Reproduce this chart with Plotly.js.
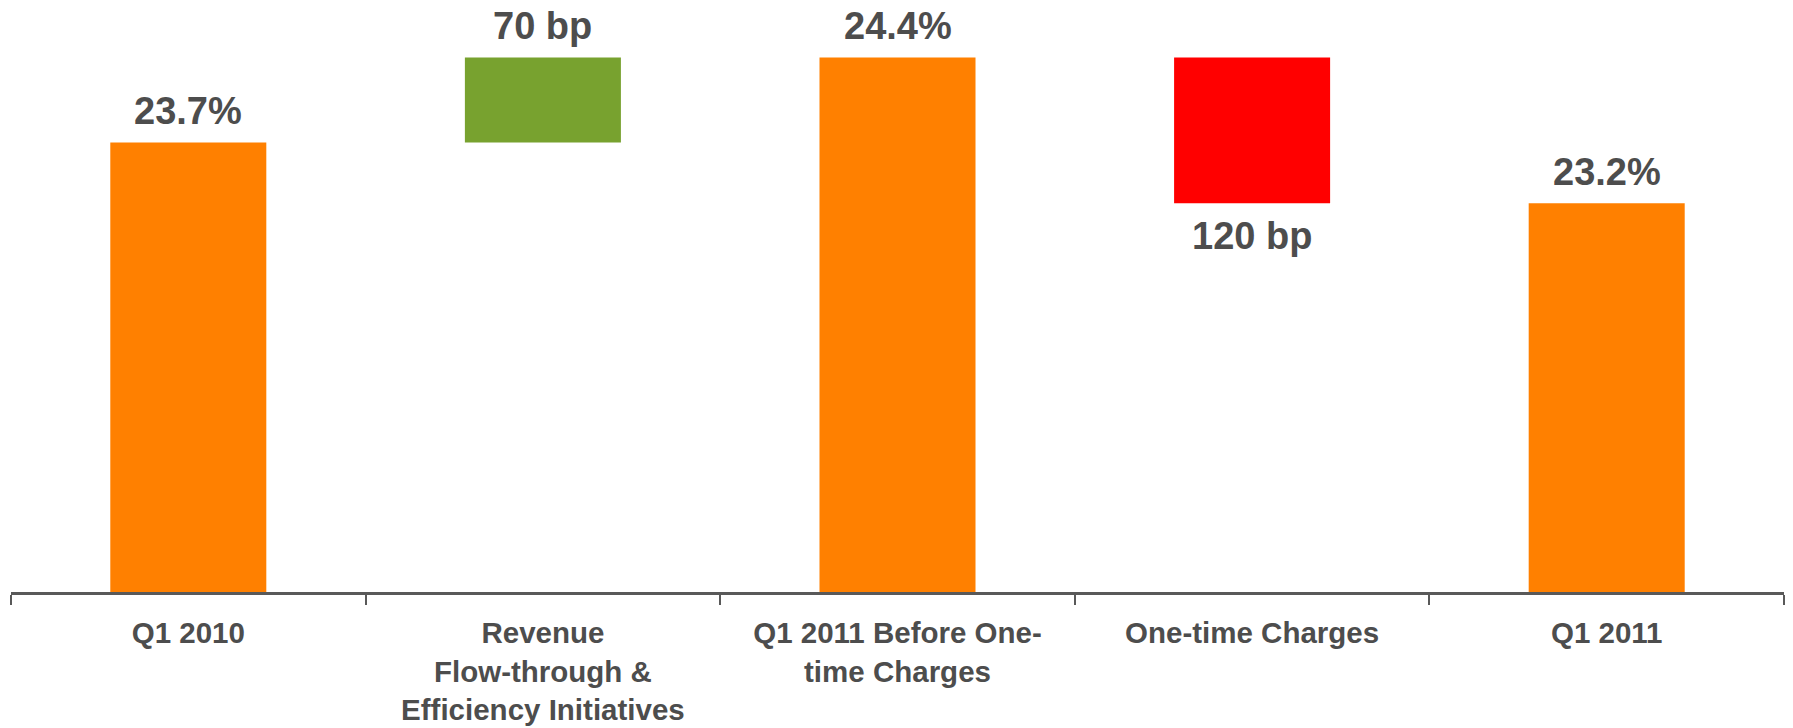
<!DOCTYPE html>
<html>
<head>
<meta charset="utf-8">
<script src="https://cdn.plot.ly/plotly-3.0.1.min.js"></script>
<style>html,body{margin:0;padding:0;background:#fff;}#chart{width:1793px;height:728px;}</style>
</head>
<body>
<div id="chart"></div>
<script>
const categories = ["Q1 2010", "Revenue<br>Flow-through &<br>Efficiency Initiatives", "Q1 2011 Before One-<br>time Charges", "One-time Charges", "Q1 2011"];
const measures = ["absolute", "relative", "total", "relative", "total"];
const values = [23.7, 0.7, 24.4, -1.2, 23.2];
const labels = ["23.7%", "70 bp", "24.4%", "120 bp", "23.2%"];
const colors = {total: "#FF8000", up: "#78A22F", down: "#FF0000"};

// build waterfall bars from data
let running = 0;
const ys = [], bases = [], cols = [], tops = [], bottoms = [];
measures.forEach((m, i) => {
  if (m === "absolute") { running = values[i]; ys.push(running); bases.push(0); cols.push(colors.total); }
  else if (m === "total") { ys.push(running); bases.push(0); cols.push(colors.total); }
  else {
    const start = running; running += values[i];
    ys.push(values[i]); bases.push(start); cols.push(values[i] >= 0 ? colors.up : colors.down);
  }
  const a = bases[i], b = bases[i] + ys[i];
  tops.push(Math.max(a, b)); bottoms.push(Math.min(a, b));
});

const trace = {
  type: "bar", x: categories, y: ys, base: bases, width: 0.44,
  marker: {color: cols, line: {width: 0}}, hoverinfo: "skip"
};

const txtFont = {family: "Liberation Sans, Arial, sans-serif", size: 38, color: "#4D4D4D", weight: 700};
const annotations = categories.map((c, i) => {
  const below = measures[i] === "relative" && values[i] < 0;
  return {
    x: c, xref: "x", yref: "y",
    y: below ? bottoms[i] : tops[i],
    text: labels[i], showarrow: false, font: txtFont,
    yanchor: below ? "top" : "bottom",
    yshift: below ? -10 : 8
  };
});

const layout = {
  width: 1793, height: 728,
  margin: {l: 11, r: 9, t: 10, b: 136},
  paper_bgcolor: "#fff", plot_bgcolor: "#fff",
  showlegend: false, bargap: 0.56,
  xaxis: {
    type: "category", tickson: "boundaries", ticks: "outside", ticklen: 10, tickwidth: 2,
    tickcolor: "#595959", showline: true, linecolor: "#595959", linewidth: 3,
    showgrid: false, zeroline: false,
    tickfont: {family: "Liberation Sans, Arial, sans-serif", size: 29.5, color: "#4D4D4D", weight: 700},
    ticklabelstandoff: 13
  },
  yaxis: {range: [20, 24.79], visible: false, showgrid: false, zeroline: false},
  annotations: annotations
};

Plotly.newPlot("chart", [trace], layout, {displayModeBar: false, staticPlot: true});
</script>
</body>
</html>
